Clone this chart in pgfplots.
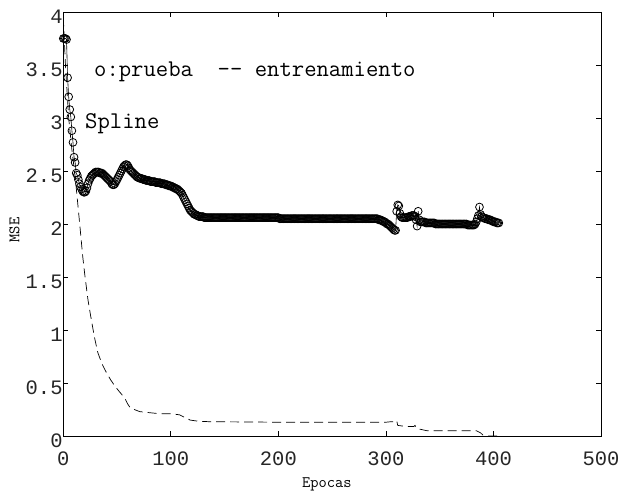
\documentclass[border=0pt]{standalone}
\usepackage{pgfplots}
\pgfplotsset{compat=1.18}
\usepackage{fontspec}
\newfontfamily\lmono{Liberation Mono}

\begin{document}
\begin{tikzpicture}
\useasboundingbox (-63.3pt,-58pt) rectangle (555.7pt,436pt);
\begin{axis}[
    at={(0pt,0pt)}, anchor=south west,
    scale only axis,
    width=537.7pt, height=424pt,
    xmin=0, xmax=500, ymin=0, ymax=4,
    xtick={0,100,200,300,400,500},
    ytick={0,0.5,1,1.5,2,2.5,3,3.5,4},
    tick align=inside, xtick pos=both, ytick pos=both,
    major tick length=5pt,
    axis line style={line width=0.9pt},
    every tick/.style={black, line width=0.7pt},
    /pgf/number format/assume math mode=true,
    tick label style={font=\lmono\fontsize{20.5}{20.5}\selectfont, inner sep=0pt, text=black!85},
    xticklabel style={anchor=north, yshift=-16pt},
    yticklabel style={anchor=east, xshift=-0.5pt, yshift=-5pt},
    xlabel={Epocas}, ylabel={MSE},
    xlabel style={font=\ttfamily\fontsize{16}{16}\selectfont, at={(axis description cs:0.49,-0.113)}, anchor=center},
    ylabel style={font=\ttfamily\fontsize{16}{16}\selectfont, at={(axis description cs:-0.091,0.486)}, anchor=center},
]
% entrenamiento (dashed)
\addplot[black, line width=0.7pt, dash pattern=on 9pt off 5pt]
    coordinates {
        (0,3.95) (2,3.5) (5,3.0) (8,2.7) (11,2.45) (13,2.24) (16,1.92) (18,1.70)
        (20,1.52) (23,1.28) (26,1.10) (29,0.93) (32,0.79) (36,0.68) (40,0.60)
        (44,0.53) (48,0.47) (52,0.42) (57,0.36) (60,0.30) (62,0.27) (66,0.25)
        (71,0.23) (80,0.22) (90,0.21) (100,0.21) (108,0.20) (112,0.18) (118,0.15)
        (125,0.14) (135,0.135) (200,0.13) (300,0.13) (305,0.135) (309,0.135)
        (310,0.145) (311,0.10) (318,0.09) (326,0.09) (327,0.10) (329,0.07)
        (338,0.05) (384,0.05) (388,0.03) (390,0.01) (395,0.0) (405,0.0)
    };
% prueba (circles)
\addplot[black, line width=0.6pt, mark=o, mark size=3.9pt, mark options={line width=0.8pt, solid}]
    coordinates {
        (0,3.75) (1,3.75) (2,3.75) (3,3.74) (4,3.38) (5,3.20) (6,3.08) (7,3.01) (8,2.88) (9,2.77)
        (10,2.63) (11,2.58) (12,2.48) (13,2.46) (14,2.42) (15,2.38) (16,2.35) (17,2.33) (18,2.31) (19,2.30)
        (20,2.30) (21,2.31) (22,2.34) (23,2.38) (24,2.41) (25,2.43) (26,2.45) (27,2.46) (28,2.47) (29,2.48)
        (30,2.49) (31,2.49) (32,2.49) (33,2.49) (34,2.48) (35,2.48) (36,2.48) (37,2.47) (38,2.46) (39,2.45)
        (40,2.44) (41,2.43) (42,2.42) (43,2.41) (44,2.40) (45,2.38) (46,2.37) (47,2.37) (48,2.38) (49,2.40)
        (50,2.42) (51,2.44) (52,2.46) (53,2.48) (54,2.50) (55,2.52) (56,2.54) (57,2.55) (58,2.56) (59,2.56)
        (60,2.55) (61,2.53) (62,2.51) (63,2.50) (64,2.49) (65,2.48) (66,2.47) (67,2.46) (68,2.45) (69,2.44)
        (70,2.44) (71,2.43) (72,2.43) (73,2.43) (74,2.42) (75,2.42) (76,2.42) (77,2.41) (78,2.41) (79,2.41)
        (80,2.41) (81,2.40) (82,2.40) (83,2.40) (84,2.40) (85,2.40) (86,2.39) (87,2.39) (88,2.39) (89,2.39)
        (90,2.39) (91,2.38) (92,2.38) (93,2.38) (94,2.38) (95,2.37) (96,2.37) (97,2.37) (98,2.36) (99,2.36)
        (100,2.36) (101,2.35) (102,2.35) (103,2.34) (104,2.34) (105,2.33) (106,2.33) (107,2.32) (108,2.31) (109,2.30)
        (110,2.29) (111,2.27) (112,2.25) (113,2.23) (114,2.21) (115,2.19) (116,2.17) (117,2.15) (118,2.13) (119,2.12)
        (120,2.11) (121,2.10) (122,2.09) (123,2.09) (124,2.08) (125,2.08) (126,2.07) (127,2.07) (128,2.07) (129,2.07)
        (130,2.07) (131,2.06) (132,2.06) (133,2.06) (134,2.06) (135,2.06) (136,2.06) (137,2.06) (138,2.06) (139,2.06)
        (140,2.06) (141,2.06) (142,2.06) (143,2.06) (144,2.06) (145,2.06) (146,2.06) (147,2.06) (148,2.06) (149,2.06)
        (150,2.06) (151,2.06) (152,2.06) (153,2.06) (154,2.06) (155,2.06) (156,2.06) (157,2.06) (158,2.06) (159,2.06)
        (160,2.06) (161,2.06) (162,2.06) (163,2.06) (164,2.06) (165,2.06) (166,2.06) (167,2.06) (168,2.06) (169,2.06)
        (170,2.06) (171,2.06) (172,2.06) (173,2.06) (174,2.06) (175,2.06) (176,2.06) (177,2.06) (178,2.06) (179,2.06)
        (180,2.06) (181,2.06) (182,2.06) (183,2.06) (184,2.06) (185,2.06) (186,2.06) (187,2.06) (188,2.06) (189,2.06)
        (190,2.06) (191,2.06) (192,2.06) (193,2.06) (194,2.06) (195,2.06) (196,2.06) (197,2.06) (198,2.06) (199,2.06)
        (200,2.06) (201,2.05) (202,2.05) (203,2.05) (204,2.05) (205,2.05) (206,2.05) (207,2.05) (208,2.05) (209,2.05)
        (210,2.05) (211,2.05) (212,2.05) (213,2.05) (214,2.05) (215,2.05) (216,2.05) (217,2.05) (218,2.05) (219,2.05)
        (220,2.05) (221,2.05) (222,2.05) (223,2.05) (224,2.05) (225,2.05) (226,2.05) (227,2.05) (228,2.05) (229,2.05)
        (230,2.05) (231,2.05) (232,2.05) (233,2.05) (234,2.05) (235,2.05) (236,2.05) (237,2.05) (238,2.05) (239,2.05)
        (240,2.05) (241,2.05) (242,2.05) (243,2.05) (244,2.05) (245,2.05) (246,2.05) (247,2.05) (248,2.05) (249,2.05)
        (250,2.05) (251,2.05) (252,2.05) (253,2.05) (254,2.05) (255,2.05) (256,2.05) (257,2.05) (258,2.05) (259,2.05)
        (260,2.05) (261,2.05) (262,2.05) (263,2.05) (264,2.05) (265,2.05) (266,2.05) (267,2.05) (268,2.05) (269,2.05)
        (270,2.05) (271,2.05) (272,2.05) (273,2.05) (274,2.05) (275,2.05) (276,2.05) (277,2.05) (278,2.05) (279,2.05)
        (280,2.05) (281,2.05) (282,2.05) (283,2.05) (284,2.05) (285,2.05) (286,2.05) (287,2.05) (288,2.05) (289,2.05)
        (290,2.05) (291,2.05) (292,2.05) (293,2.04) (294,2.04) (295,2.04) (296,2.03) (297,2.03) (298,2.02) (299,2.02)
        (300,2.01) (301,2.00) (302,2.00) (303,1.99) (304,1.98) (305,1.97) (306,1.96) (307,1.95) (308,1.94) (309,1.94)
        (310,2.12) (311,2.18) (312,2.17) (313,2.10) (314,2.07) (315,2.06) (316,2.06) (317,2.06) (318,2.06) (319,2.06)
        (320,2.06) (321,2.07) (322,2.07) (323,2.07) (324,2.08) (325,2.08) (326,2.08) (327,2.07) (328,2.04) (329,1.98)
        (330,2.12) (331,2.04) (332,2.02) (333,2.02) (334,2.02) (335,2.02) (336,2.02) (337,2.01) (338,2.01) (339,2.01)
        (340,2.01) (341,2.01) (342,2.01) (343,2.01) (344,2.01) (345,2.01) (346,2.00) (347,2.00) (348,2.00) (349,2.00)
        (350,2.00) (351,2.00) (352,2.00) (353,2.00) (354,2.00) (355,2.00) (356,2.00) (357,2.00) (358,2.00) (359,2.00)
        (360,2.00) (361,2.00) (362,2.00) (363,2.00) (364,2.00) (365,2.00) (366,2.00) (367,2.00) (368,2.00) (369,2.00)
        (370,2.00) (371,2.00) (372,2.00) (373,2.00) (374,2.00) (375,2.00) (376,1.99) (377,1.99) (378,1.99) (379,1.99)
        (380,1.99) (381,1.99) (382,1.99) (383,2.00) (384,2.02) (385,2.05) (386,2.08) (387,2.16) (388,2.09) (389,2.07)
        (390,2.06) (391,2.06) (392,2.05) (393,2.05) (394,2.05) (395,2.04) (396,2.04) (397,2.04) (398,2.03) (399,2.03)
        (400,2.02) (401,2.02) (402,2.02) (403,2.01) (404,2.01) (405,2.01)
    };
\node[anchor=base west, inner sep=0pt, font=\ttfamily\fontsize{24}{24}\selectfont]
    at (axis cs:28.5,3.39) {o:prueba\ \ -{}- entrenamiento};
\node[anchor=base west, inner sep=0pt, font=\ttfamily\fontsize{24}{24}\selectfont]
    at (axis cs:20.2,2.90) {Spline};
\end{axis}
\end{tikzpicture}
\end{document}
